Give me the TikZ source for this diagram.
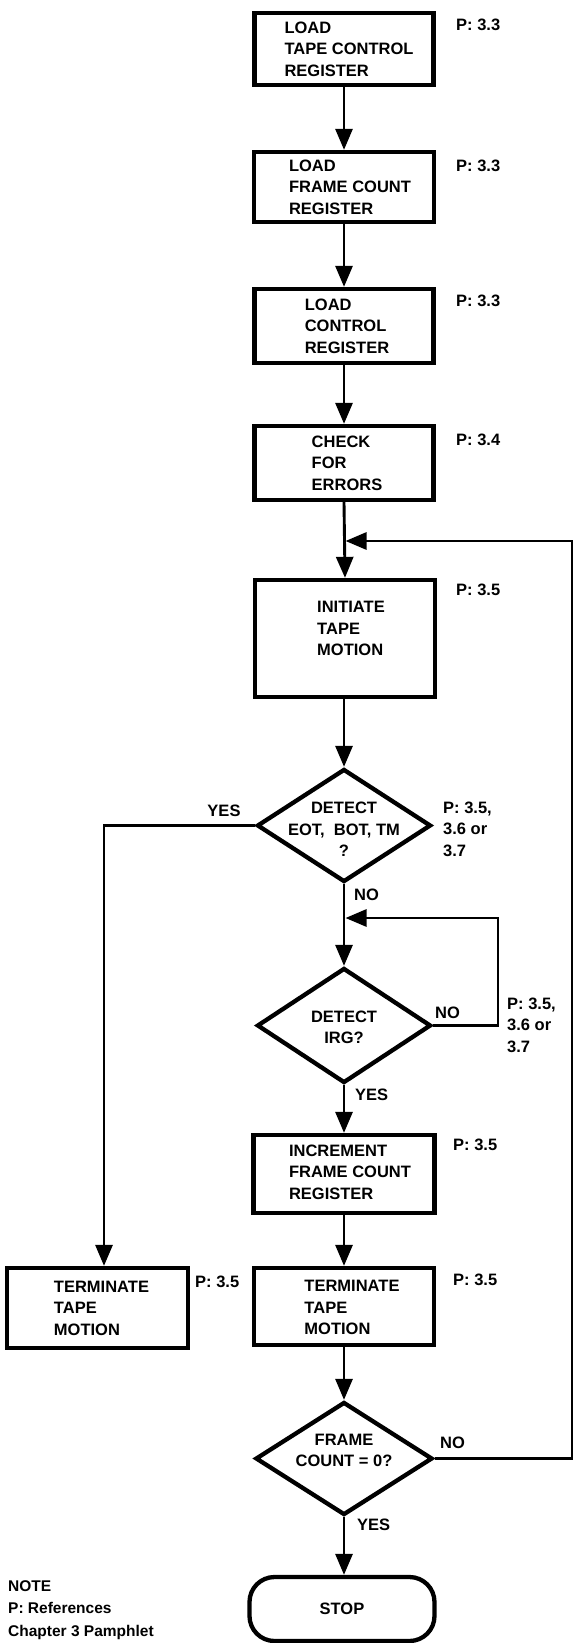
\documentclass[tikz,border=0pt]{standalone}
\usepackage{fontspec}
\setmainfont{Liberation Sans}
\usetikzlibrary{arrows.meta,shapes.geometric}
\begin{document}
\begin{tikzpicture}[x=1pt,y=-1pt,
  every node/.style={font=\bfseries\fontsize{16.5}{21.5}\selectfont, inner sep=0pt},
  proc/.style={draw, line width=4.3pt, rectangle, inner sep=0pt},
  dec/.style={draw, line width=4.3pt, diamond, inner sep=0pt},
  txt/.style={align=left},
  ctxt/.style={align=center},
  lbl/.style={anchor=west, align=left},
  conn/.style={line width=2.9pt, line join=miter, -{Triangle[length=21pt,width=17pt]}},
]
\useasboundingbox (0,0) rectangle (575,1643);

% boxes
\node[proc, minimum width=179pt, minimum height=72pt] (b1) at (344,49) {};
\node[txt] (t1) at ([xshift=5pt]b1.center) {LOAD\\TAPE CONTROL\\REGISTER};
\node[proc, minimum width=180pt, minimum height=70pt] (b2) at (344,187) {};
\node[txt] (t2) at ([xshift=6pt]b2.center) {LOAD\\FRAME COUNT\\REGISTER};
\node[proc, minimum width=179pt, minimum height=74pt] (b3) at (344,326) {};
\node[txt] (t3) at ([xshift=3pt]b3.center) {LOAD\\CONTROL\\REGISTER};
\node[proc, minimum width=179pt, minimum height=74pt] (b4) at (344,463) {};
\node[txt] (t4) at ([xshift=3pt]b4.center) {CHECK\\FOR\\ERRORS};
\node[proc, minimum width=180pt, minimum height=117pt] (b5) at (345,638.5) {};
\node[txt] (t5) at ([xshift=6pt,yshift=10pt]b5.center) {INITIATE\\TAPE\\MOTION};

\node[dec, minimum width=174pt, minimum height=113pt] (d1) at (344,825.5) {};
\node[ctxt] (t6) at ([yshift=-4pt]d1.center) {DETECT\\EOT,\ \ BOT, TM\\?};
\node[dec, minimum width=174pt, minimum height=115pt] (d2) at (344,1025.5) {};
\node[ctxt] (t7) at ([yshift=-2pt]d2.center) {DETECT\\IRG?};

\node[proc, minimum width=181pt, minimum height=78pt] (b6) at (344,1174) {};
\node[txt] (t8) at ([xshift=6pt,yshift=2pt]b6.center) {INCREMENT\\FRAME COUNT\\REGISTER};
\node[proc, minimum width=181pt, minimum height=80pt] (b7) at (97.5,1308) {};
\node[txt] (t9) at ([xshift=4pt]b7.center) {TERMINATE\\TAPE\\MOTION};
\node[proc, minimum width=180pt, minimum height=77pt] (b8) at (344,1306.5) {};
\node[txt] (t10) at ([xshift=8pt,yshift=-1pt]b8.center) {TERMINATE\\TAPE\\MOTION};

\node[dec, minimum width=177pt, minimum height=113pt] (d3) at (344,1458.5) {};
\node[ctxt] (t11) at ([yshift=8pt]d3.center) {FRAME\\COUNT = 0?};

\node[draw, line width=4.3pt, rounded corners=25pt, minimum width=185pt, minimum height=64pt] (stop) at (342,1609) {};
\node (t12) at (stop.center) {STOP};

% references
\node[lbl] (p1) at (456,25) {P: 3.3};
\node[lbl] (p2) at (456,166) {P: 3.3};
\node[lbl] (p3) at (456,301) {P: 3.3};
\node[lbl] (p4) at (456,440) {P: 3.4};
\node[lbl] (p5) at (456,590) {P: 3.5};
\node[lbl] (p6) at (443,829) {P: 3.5,\\3.6 or\\3.7};
\node[lbl] (p7) at (507,1025) {P: 3.5,\\3.6 or\\3.7};
\node[lbl] (p8) at (453,1145) {P: 3.5};
\node[lbl] (p9) at (195,1282) {P: 3.5};
\node[lbl] (p10) at (453,1280) {P: 3.5};

% branch labels
\node (yes1) at (224,811) {YES};
\node[lbl] (no1) at (354,895) {NO};
\node[lbl] (no2) at (435,1013) {NO};
\node[lbl] (yes2) at (355,1095) {YES};
\node[lbl] (no3) at (440,1443) {NO};
\node[lbl] (yes3) at (357,1525) {YES};

% note
\node[lbl, font=\bfseries\fontsize{15.5}{22.5}\selectfont] (note) at (8,1610) {NOTE\\P: References\\Chapter 3 Pamphlet};

% junction coordinates
\coordinate (j1) at (345.5,541);
\coordinate (r1) at (572,541);
\coordinate (j2) at (345.5,918);
\coordinate (r2) at (498,918);

% connectors
\draw[conn] (b1.south) -- (b2.north);
\draw[conn] (b2.south) -- (b3.north);
\draw[conn] (b3.south) -- (b4.north);
\draw[conn] (b4.south) -- (b5.north);
\draw[conn] (b5.south -| d1.north) -- (d1.north);
\draw[conn] (d1.south) -- (d2.north);
\draw[conn] (d2.south) -- (b6.north);
\draw[conn] (b6.south) -- (b8.north);
\draw[conn] (b8.south) -- (d3.north);
\draw[conn] (d3.south) -- (stop.north -| d3.south);
\draw[conn] (d1.west) -| ([xshift=6.5pt]b7.north);
\draw[conn] (d2.east) -| (r2) -- (j2);
\draw[conn] (d3.east) -| (r1) -- (j1);
\end{tikzpicture}
\end{document}
